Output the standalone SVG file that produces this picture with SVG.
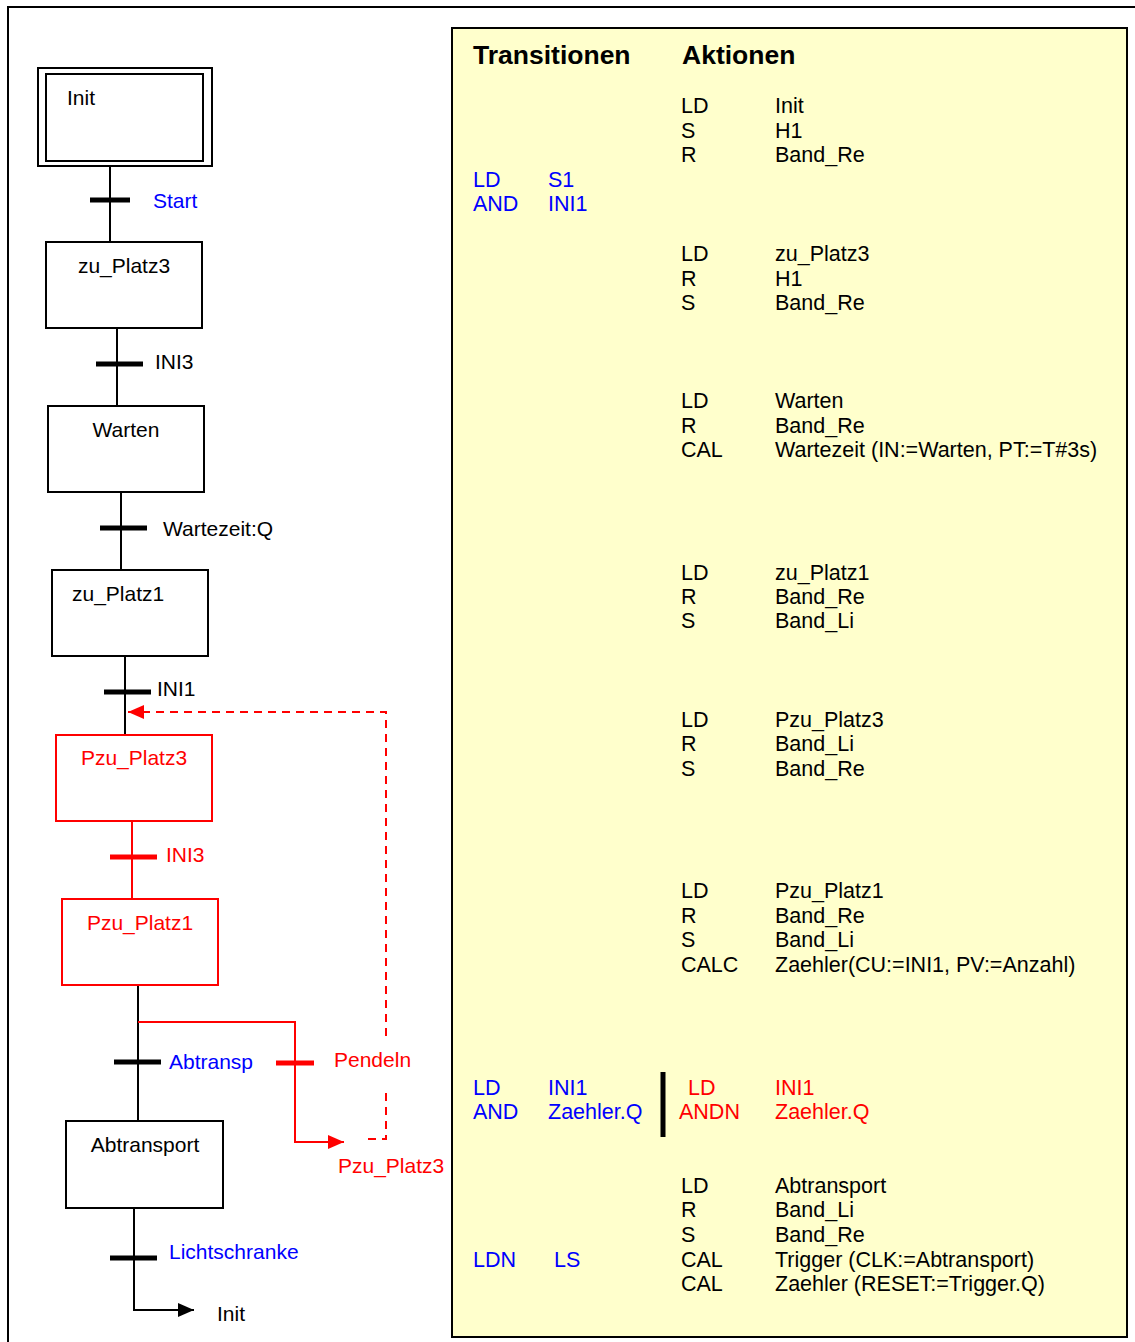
<svg xmlns="http://www.w3.org/2000/svg" width="1135" height="1342" viewBox="0 0 1135 1342">
<style>
text{font-family:"Liberation Sans",Arial,sans-serif;font-size:21px;fill:#000}
#table text{font-size:21.5px}
#table text.h{font-weight:bold;font-size:26.5px}
.b{fill:#0000ff}
.r{fill:#ff0000}
.step{fill:#fff;stroke:#000;stroke-width:2}
.rstep{fill:#fff;stroke:#ff0000;stroke-width:2}
.ln{stroke:#000;stroke-width:2;fill:none}
.rln{stroke:#ff0000;stroke-width:2;fill:none}
.bar{stroke:#000;stroke-width:5}
.rbar{stroke:#ff0000;stroke-width:5}
.dash{stroke:#ff0000;stroke-width:2;fill:none;stroke-dasharray:8,6}
</style>
<defs>
<marker id="ab" viewBox="0 0 16 14" refX="16" refY="7" markerWidth="16" markerHeight="14" markerUnits="userSpaceOnUse" orient="auto"><path d="M0,0L16,7L0,14Z" fill="#000"/></marker>
<marker id="ar" viewBox="0 0 16 14" refX="16" refY="7" markerWidth="16" markerHeight="14" markerUnits="userSpaceOnUse" orient="auto"><path d="M0,0L16,7L0,14Z" fill="#ff0000"/></marker>
</defs>
<rect x="0" y="0" width="1135" height="1342" fill="#fff"/>
<rect x="8" y="7" width="1150" height="1350" fill="none" stroke="#000" stroke-width="2"/>
<rect id="panel" x="452" y="28" width="675" height="1309" fill="#ffffcc" stroke="#000" stroke-width="2"/>

<g id="connectors">
<line class="ln" x1="110" y1="167" x2="110" y2="242"/>
<line class="bar" x1="90" y1="200" x2="130" y2="200"/>
<line class="ln" x1="117" y1="328" x2="117" y2="406"/>
<line class="bar" x1="96" y1="364" x2="143" y2="364"/>
<line class="ln" x1="121" y1="492" x2="121" y2="570"/>
<line class="bar" x1="100" y1="528" x2="147" y2="528"/>
<line class="ln" x1="125" y1="656" x2="125" y2="735"/>
<line class="bar" x1="104" y1="692" x2="151" y2="692"/>
<path class="dash" d="M386,1036V712H128" marker-end="url(#ar)"/>
<path class="dash" d="M386,1093V1139H365"/>
<line class="rln" x1="132" y1="821" x2="132" y2="899"/>
<line class="rbar" x1="110" y1="857" x2="157" y2="857"/>
<line class="ln" x1="138" y1="985" x2="138" y2="1121"/>
<line class="bar" x1="114" y1="1062" x2="161" y2="1062"/>
<path class="rln" d="M138,1022H295V1142H344" marker-end="url(#ar)"/>
<line class="rbar" x1="276" y1="1063" x2="314" y2="1063"/>
<path class="ln" d="M134,1208V1310H194" marker-end="url(#ab)"/>
<line class="bar" x1="110" y1="1258" x2="157" y2="1258"/>
</g>

<g id="init">
<rect class="step" x="38" y="68" width="174" height="98"/>
<rect class="step" x="46" y="74" width="157" height="87"/>
<text x="67" y="105">Init</text>
</g>
<text class="b" x="153" y="208">Start</text>
<g id="zu_platz3">
<rect class="step" x="46" y="242" width="156" height="86"/>
<text x="124" y="273" text-anchor="middle">zu_Platz3</text>
</g>
<text x="155" y="369">INI3</text>
<g id="warten">
<rect class="step" x="48" y="406" width="156" height="86"/>
<text x="126" y="437" text-anchor="middle">Warten</text>
</g>
<text x="163" y="536">Wartezeit:Q</text>
<g id="zu_platz1">
<rect class="step" x="52" y="570" width="156" height="86"/>
<text x="72" y="601">zu_Platz1</text>
</g>
<text x="157" y="696">INI1</text>
<g id="pzu_platz3">
<rect class="rstep" x="56" y="735" width="156" height="86"/>
<text class="r" x="134" y="765" text-anchor="middle">Pzu_Platz3</text>
</g>
<text class="r" x="166" y="862">INI3</text>
<g id="pzu_platz1">
<rect class="rstep" x="62" y="899" width="156" height="86"/>
<text class="r" x="140" y="930" text-anchor="middle">Pzu_Platz1</text>
</g>
<text class="b" x="169" y="1069">Abtransp</text>
<text class="r" x="334" y="1067">Pendeln</text>
<text class="r" x="338" y="1173">Pzu_Platz3</text>
<g id="abtransport">
<rect class="step" x="66" y="1121" width="157" height="87"/>
<text x="145" y="1152" text-anchor="middle">Abtransport</text>
</g>
<text class="b" x="169" y="1259">Lichtschranke</text>
<text x="217" y="1321">Init</text>

<g id="table">
<text class="h" x="473" y="64">Transitionen</text>
<text class="h" x="682" y="64">Aktionen</text>

<text x="681" y="113">LD</text><text x="775" y="113">Init</text>
<text x="681" y="138">S</text><text x="775" y="138">H1</text>
<text x="681" y="162">R</text><text x="775" y="162">Band_Re</text>
<text class="b" x="473" y="187">LD</text><text class="b" x="548" y="187">S1</text>
<text class="b" x="473" y="211">AND</text><text class="b" x="548" y="211">INI1</text>

<text x="681" y="261">LD</text><text x="775" y="261">zu_Platz3</text>
<text x="681" y="286">R</text><text x="775" y="286">H1</text>
<text x="681" y="310">S</text><text x="775" y="310">Band_Re</text>

<text x="681" y="408">LD</text><text x="775" y="408">Warten</text>
<text x="681" y="433">R</text><text x="775" y="433">Band_Re</text>
<text x="681" y="457">CAL</text><text x="775" y="457">Wartezeit (IN:=Warten, PT:=T#3s)</text>

<text x="681" y="580">LD</text><text x="775" y="580">zu_Platz1</text>
<text x="681" y="604">R</text><text x="775" y="604">Band_Re</text>
<text x="681" y="628">S</text><text x="775" y="628">Band_Li</text>

<text x="681" y="727">LD</text><text x="775" y="727">Pzu_Platz3</text>
<text x="681" y="751">R</text><text x="775" y="751">Band_Li</text>
<text x="681" y="776">S</text><text x="775" y="776">Band_Re</text>

<text x="681" y="898">LD</text><text x="775" y="898">Pzu_Platz1</text>
<text x="681" y="923">R</text><text x="775" y="923">Band_Re</text>
<text x="681" y="947">S</text><text x="775" y="947">Band_Li</text>
<text x="681" y="972">CALC</text><text x="775" y="972">Zaehler(CU:=INI1, PV:=Anzahl)</text>

<text class="b" x="473" y="1095">LD</text><text class="b" x="548" y="1095">INI1</text>
<text class="b" x="473" y="1119">AND</text><text class="b" x="548" y="1119">Zaehler.Q</text>
<line x1="663" y1="1072" x2="663" y2="1137" stroke="#000" stroke-width="5"/>
<text class="r" x="688" y="1095">LD</text><text class="r" x="775" y="1095">INI1</text>
<text class="r" x="679" y="1119">ANDN</text><text class="r" x="775" y="1119">Zaehler.Q</text>

<text x="681" y="1193">LD</text><text x="775" y="1193">Abtransport</text>
<text x="681" y="1217">R</text><text x="775" y="1217">Band_Li</text>
<text x="681" y="1242">S</text><text x="775" y="1242">Band_Re</text>
<text class="b" x="473" y="1267">LDN</text><text class="b" x="554" y="1267">LS</text>
<text x="681" y="1267">CAL</text><text x="775" y="1267">Trigger (CLK:=Abtransport)</text>
<text x="681" y="1291">CAL</text><text x="775" y="1291">Zaehler (RESET:=Trigger.Q)</text>
</g>
</svg>
